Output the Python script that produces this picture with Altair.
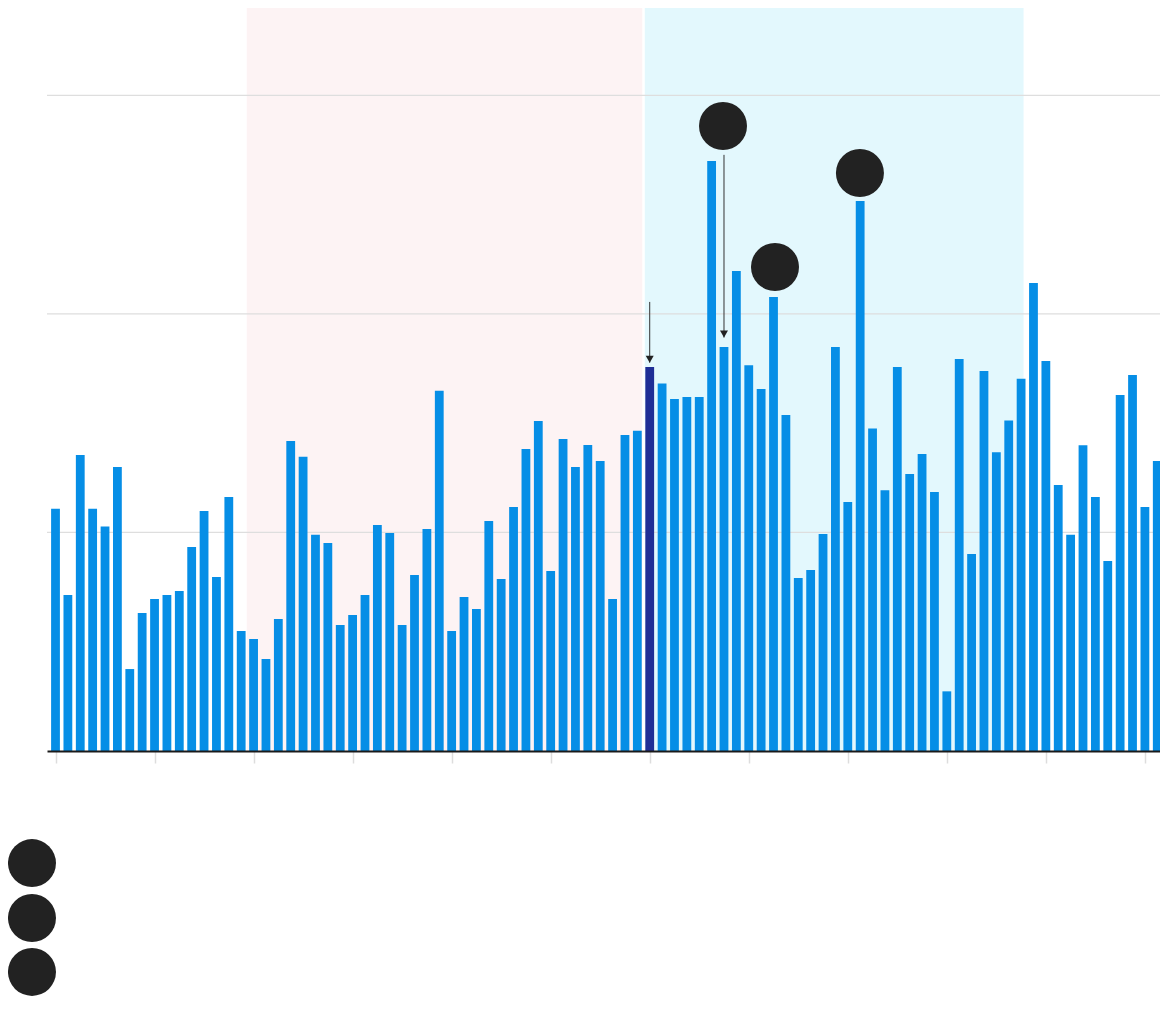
import altair as alt
import pandas as pd

# ---- data ----
values = [
    11.08, 7.14, 13.55, 11.08, 10.27, 13.00, 3.75, 6.32, 6.96, 7.14,
    7.32, 9.34, 10.98, 7.96, 11.62, 5.49, 5.13, 4.21, 6.04, 14.19,
    13.46, 9.89, 9.52, 5.77, 6.22, 7.14, 10.34, 9.98, 5.77, 8.05,
    10.16, 16.48, 5.49, 7.05, 6.50, 10.53, 7.87, 11.17, 13.82, 15.10,
    8.24, 14.28, 13.00, 14.00, 13.27, 6.96, 14.46, 14.65, 17.57, 16.82,
    16.11, 16.20, 16.20, 27.00, 18.49, 21.97, 17.65, 16.57, 20.78, 15.38,
    7.92, 8.28, 9.93, 18.49, 11.40, 25.17, 14.76, 11.93, 17.57, 12.68,
    13.59, 11.85, 2.73, 17.94, 9.02, 17.39, 13.67, 15.12, 17.03, 21.42,
    17.85, 12.17, 9.89, 13.99, 11.62, 8.70, 16.29, 17.21, 11.17, 13.27,
]
index = list(range(len(values)))
highlight_index = 48
tick_positions = list(range(0, 89, 8))
grid_values = [10, 20, 30]

period_names = ["before", "during"]
period_start = [15.45, 47.6]
period_end = [47.4, 78.2]

arrow_x = [48, 54]
arrow_from = [20.55, 27.28]
arrow_to = [17.77, 18.92]

marker_x = [53.92, 58.12, 64.98, -1.9, -1.9, -1.9]
marker_y = [28.6, 22.15, 26.45, -5.13, -7.64, -10.11]

# ---- styling ----
BLUE = "#068ee6"
NAVY = "#1f2e96"
DARK = "#222222"
X_DOMAIN = [-0.687, 89.22]
Y_DOMAIN = [0, 34.0]

xs = alt.Scale(domain=X_DOMAIN, nice=False, zero=False, padding=0)
ys = alt.Scale(domain=Y_DOMAIN, nice=False, zero=False, padding=0)
x_axis = alt.Axis(values=tick_positions, labels=False, title=None, grid=False,
                  ticks=True, tickSize=12, tickColor="#dddddd", tickWidth=1.5,
                  domainColor="#1a1a1a", domainWidth=2, zindex=1)

bars_df = pd.DataFrame({"i": index, "v": values})
bars_df["hl"] = bars_df["i"] == highlight_index
periods_df = pd.DataFrame({"p": period_names, "s": period_start, "e": period_end})
grid_df = pd.DataFrame({"g": grid_values})
arrows_df = pd.DataFrame({"x": arrow_x, "y1": arrow_from, "y2": arrow_to})
markers_df = pd.DataFrame({"x": marker_x, "y": marker_y})

shade = alt.Chart(periods_df).mark_rect().encode(
    x=alt.X("s:Q", scale=xs, axis=x_axis),
    x2="e:Q",
    y=alt.Y("y0:Q", scale=ys, axis=None),
    y2="y1:Q",
    color=alt.Color("p:N", scale=alt.Scale(domain=period_names,
                                           range=["#fdf3f4", "#e3f8fd"]),
                    legend=None),
).transform_calculate(y0="0", y1=str(Y_DOMAIN[1]))

grid = alt.Chart(grid_df).mark_rule(color="#dedede", strokeWidth=1.2).encode(
    y=alt.Y("g:Q", scale=ys, axis=None)
)

bars = alt.Chart(bars_df).mark_bar(size=8.8).encode(
    x=alt.X("i:Q", scale=xs, axis=x_axis),
    y=alt.Y("v:Q", scale=ys, axis=None),
    color=alt.Color("hl:N", scale=alt.Scale(domain=[False, True], range=[BLUE, NAVY]),
                    legend=None),
)

arrow_lines = alt.Chart(arrows_df).mark_rule(color="#333333", strokeWidth=1).encode(
    x=alt.X("x:Q", scale=xs, axis=x_axis),
    y=alt.Y("y1:Q", scale=ys, axis=None),
    y2="y2:Q",
)

arrow_heads = alt.Chart(arrows_df).mark_point(
    shape="M-1,-1.75L1,-1.75L0,0Z", filled=True, color="#222222", opacity=1, size=64
).encode(
    x=alt.X("x:Q", scale=xs, axis=x_axis),
    y=alt.Y("y2:Q", scale=ys, axis=None),
)

markers = alt.Chart(markers_df).mark_circle(color=DARK, opacity=1, size=2304).encode(
    x=alt.X("x:Q", scale=xs, axis=x_axis),
    y=alt.Y("y:Q", scale=ys, axis=None),
)

chart = alt.layer(shade, grid, bars, arrow_lines, arrow_heads, markers).resolve_scale(
    color="independent"
).properties(
    width=1113,
    height=743,
    autosize=alt.AutoSizeParams(type="none"),
    padding={"left": 39, "top": 0, "right": 0, "bottom": 245},
    background="white",
).configure_view(stroke=None)

chart.save("out.html", embed_options={"renderer": "svg", "actions": False})
